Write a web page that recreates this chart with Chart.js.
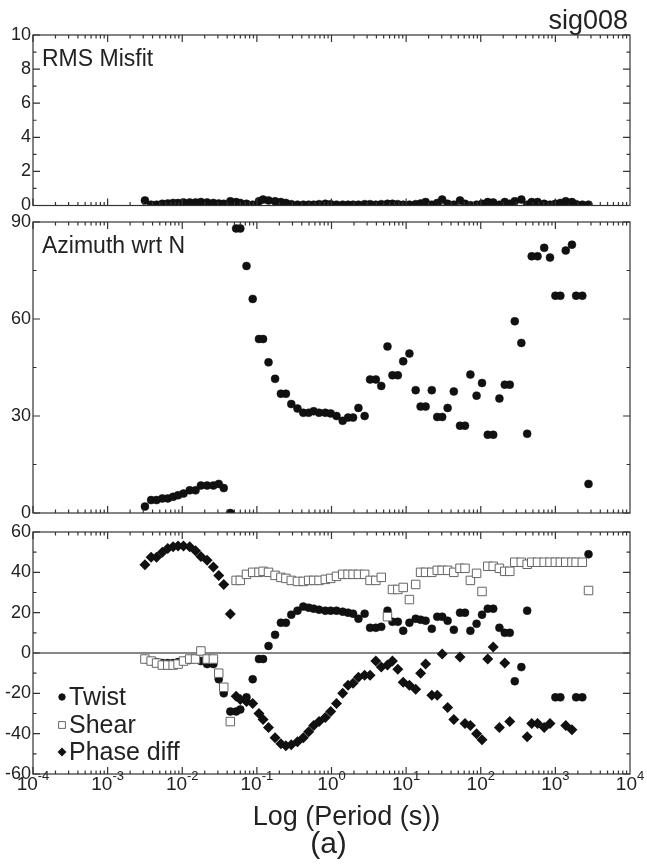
<!DOCTYPE html>
<html>
<head>
<meta charset="utf-8">
<script src="https://cdn.jsdelivr.net/npm/chart.js@4/dist/chart.umd.min.js"></script>
<style>
  body { margin: 0; background: #fff; }
  #wrap { position: relative; width: 647px; height: 867px; }
  canvas { position: absolute; left: 0; }
</style>
</head>
<body>
<div id="wrap">
  <canvas id="c1" width="647" height="210" style="top:0"></canvas>
  <canvas id="c2" width="647" height="310" style="top:210px"></canvas>
  <canvas id="c3" width="647" height="347" style="top:520px"></canvas>
</div>
<script>
// log10 of period (s) for each estimate
const logPeriod = [
  -2.500, -2.417, -2.344, -2.267, -2.194, -2.122, -2.056, -1.983, -1.900, -1.822,
  -1.750, -1.667, -1.583, -1.511, -1.444, -1.356, -1.278, -1.222, -1.139, -1.056,
  -0.972, -0.917, -0.844, -0.756, -0.678, -0.611, -0.539, -0.456, -0.378, -0.306,
  -0.239, -0.167, -0.083, -0.011, 0.067, 0.150, 0.222, 0.289, 0.361, 0.444,
  0.517, 0.594, 0.667, 0.750, 0.817, 0.889, 0.961, 1.044, 1.128, 1.194,
  1.261, 1.344, 1.417, 1.483, 1.556, 1.639, 1.722, 1.789, 1.861, 1.944,
  2.017, 2.094, 2.167, 2.250, 2.322, 2.389, 2.456, 2.544, 2.622, 2.683,
  2.761, 2.850, 2.928, 3.000, 3.067, 3.139, 3.222, 3.278, 3.361, 3.444
];

const rmsMisfit = [
  0.3, 0.05, 0.05, 0.1, 0.12, 0.15, 0.15, 0.18, 0.18, 0.18,
  0.2, 0.18, 0.15, 0.12, 0.1, 0.25, 0.2, 0.15, 0.1, 0.05,
  0.25, 0.35, 0.3, 0.25, 0.2, 0.15, 0.08, 0.05, 0.05, 0.05,
  0.05, 0.08, 0.1, 0.08, 0.05, 0.05, 0.05, 0.05, 0.05, 0.08,
  0.08, 0.05, 0.08, 0.1, 0.1, 0.08, 0.05, 0.05, 0.08, 0.12,
  0.2, 0.05, 0.15, 0.35, 0.1, 0.05, 0.3, 0.1, 0.02, 0.05,
  0.1, 0.2, 0.18, 0.05, 0.2, 0.1, 0.25, 0.35, 0.05, 0.2,
  0.2, 0.1, 0.05, 0.1, 0.15, 0.25, 0.2, 0.08, 0.05, 0.05
];

const azimuth = [
  2, 4, 4, 4.5, 4.5, 5, 5.5, 6, 7, 7,
  8.5, 8.5, 8.5, 9, 7.7, 0, 88, 88, 76.4, 66.2,
  53.8, 53.8, 46.6, 41.5, 36.9, 36.9, 33.7, 32.3, 31, 31,
  31.5, 31, 31, 30.8, 30, 28.5, 29.5, 29.5, 32.5, 30,
  41.3, 41.3, 39.3, 51.5, 42.6, 42.6, 46.9, 49.3, 38, 32.9,
  32.9, 38, 29.7, 29.7, 32.5, 37.6, 27, 27, 42.8, 36.3,
  40.2, 24.2, 24.2, 35.4, 39.7, 39.7, 59.3, 52.6, 24.5, 79.4,
  79.4, 82, 79, 67.2, 67.2, 81.2, 83, 67.2, 67.2, 9
];

const twist = [
  -3, -4, -4.5, -5, -5, -5, -4.5, -4, -3.5, -3,
  -4, -5.5, -5.5, -13, -20, -29, -29, -28, -22, -13,
  -3, -3, 3.5, 9, 15, 15, 19, 21, 23, 22.5,
  22, 21.5, 21, 21, 21, 20.5, 20, 19.5, 17, 19.5,
  12.5, 12.5, 13, 21, 15.5, 15.5, 11, 15, 17, 16.5,
  16, 12, 18, 18, 16, 11.5, 20, 20, 11, 14.5,
  19, 22, 22, 12.5, 10, 10, -14, -7, 21, null,
  null, null, null, -22, -22, null, null, -22, -22, 49
];

const shear = [
  -3, -4, -5, -6, -6, -6, -5.5, -4, -3, -3,
  1, -3, -3, -10, -17, -34, 36, 36, 39, 40,
  40, 40.5, 40, 38.5, 37.5, 37, 36, 35.5, 35.5, 36,
  36, 36, 36.5, 37, 38, 39, 39, 39, 39, 39,
  36, 36, 37.5, 18, 31.5, 31.5, 32.5, 26.5, 34, 40,
  40, 40, 41, 41, 41, 40, 42, 42, 36, 39.5,
  30.5, 43, 43, 42, 40.5, 40.5, 45, 45, 44, 45,
  45, 45, 45, 45, 45, 45, 45, 45, 45, 31
];

const phaseDiff = [
  43.7, 47.5, 47.5, 50, 51.8, 52.7, 53, 53, 52.7, 50.7,
  47.8, 46, 42.6, 38.4, 34, 19.3, -21.5, -23, -24, -25,
  -30, -33, -37, -42, -45, -46, -45.5, -44, -42, -39,
  -36, -34, -32, -29, -25, -20, -16, -15, -12, -11,
  -11, -4, -7, -6, -4, -8, -14.5, -16, -18, -10,
  -5.5, -21, -21, -0.5, -27, -33, -2, -35, -36, -40,
  -43, -3, 3, -37, -5, -34, null, null, -41.5, -35,
  -35, -37, -35, null, null, -36, -38, null, null, null
];

const decades = [-4, -3, -2, -1, 0, 1, 2, 3, 4];
const FONT = '"Liberation Sans Narrow", "Liberation Sans", Arial, sans-serif';

function pts(vals) {
  return logPeriod.map((l, i) => ({ x: Math.pow(10, l), y: vals[i] })).filter(p => p.y !== null);
}

// frame, inward ticks and labels for one panel
function framePlugin(opt) {
  return {
    id: 'frame',
    beforeDatasetsDraw(chart) {
      const c = chart.ctx, a = chart.chartArea;
      const ys = chart.scales.y;
      if (opt.zeroLine) {
        c.save();
        c.strokeStyle = '#888';
        c.lineWidth = 2;
        const y0 = ys.getPixelForValue(0);
        c.beginPath(); c.moveTo(a.left, y0); c.lineTo(a.right, y0); c.stroke();
        c.restore();
      }
    },
    afterDatasetsDraw(chart) {
      const c = chart.ctx, a = chart.chartArea;
      const xs = chart.scales.x, ys = chart.scales.y;
      c.save();
      c.strokeStyle = '#333';
      c.lineWidth = 1.2;
      c.strokeRect(a.left, a.top, a.right - a.left, a.bottom - a.top);
      c.beginPath();
      // x ticks
      for (let d = -4; d < 4; d++) {
        for (let m = 1; m <= 9; m++) {
          const px = xs.getPixelForValue(m * Math.pow(10, d));
          const len = m === 1 ? 7 : 3.5;
          c.moveTo(px, a.bottom); c.lineTo(px, a.bottom - len);
          c.moveTo(px, a.top); c.lineTo(px, a.top + len);
        }
      }
      // y ticks
      for (let v = ys.min; v <= ys.max + 1e-9; v += opt.minor) {
        const py = ys.getPixelForValue(v);
        const isMajor = Math.abs((v - ys.min) / opt.major - Math.round((v - ys.min) / opt.major)) < 1e-6;
        const len = isMajor ? 7 : 3.5;
        c.moveTo(a.left, py); c.lineTo(a.left + len, py);
        c.moveTo(a.right, py); c.lineTo(a.right - len, py);
      }
      c.stroke();
      // y labels
      c.fillStyle = '#222';
      c.font = '18px ' + FONT;
      c.textAlign = 'right';
      c.textBaseline = 'middle';
      opt.labels.forEach(v => {
        c.fillText(String(v), a.left - 2, ys.getPixelForValue(v));
      });
      // panel title
      c.textAlign = 'left';
      c.textBaseline = 'alphabetic';
      c.font = '23px ' + FONT;
      c.fillText(opt.title || '', a.left + 9, a.top + 31);
      if (opt.onTop) opt.onTop(chart, c, a, xs, ys);
      c.restore();
    }
  };
}

function makeChart(id, datasets, yMin, yMax, pad, opt) {
  return new Chart(document.getElementById(id), {
    type: 'scatter',
    data: { datasets },
    options: {
      responsive: false,
      animation: false,
      devicePixelRatio: 1,
      layout: { padding: pad },
      scales: {
        x: { type: 'logarithmic', min: 1e-4, max: 1e4, display: false },
        y: { min: yMin, max: yMax, display: false }
      },
      plugins: { legend: { display: false }, tooltip: { enabled: false } }
    },
    plugins: [framePlugin(opt)]
  });
}

const dot = { pointStyle: 'circle', pointRadius: 4, backgroundColor: '#111', borderColor: '#111', borderWidth: 0.5 };
const square = { pointStyle: 'rect', pointRadius: 6, backgroundColor: '#fff', borderColor: '#666', borderWidth: 1 };
const diamond = { pointStyle: 'rectRot', pointRadius: 5.5, backgroundColor: '#111', borderColor: '#111', borderWidth: 0 };

makeChart('c1', [Object.assign({ data: pts(rmsMisfit) }, dot)], 0, 10,
  { top: 35, bottom: 4, left: 33, right: 17 },
  {
    title: 'RMS Misfit', major: 2, minor: 1, labels: [0, 2, 4, 6, 8, 10],
    onTop(chart, c, a) {
      c.font = '27px ' + FONT;
      c.textAlign = 'right';
      c.fillText('sig008', a.right - 2, a.top - 6);
    }
  });

makeChart('c2', [Object.assign({ data: pts(azimuth) }, dot)], 0, 90,
  { top: 12, bottom: 7, left: 33, right: 17 },
  { title: 'Azimuth wrt N', major: 30, minor: 15, labels: [0, 30, 60, 90] });

makeChart('c3', [
  Object.assign({ data: pts(shear), label: 'Shear' }, square),
  Object.assign({ data: pts(twist), label: 'Twist' }, dot),
  Object.assign({ data: pts(phaseDiff), label: 'Phase diff' }, diamond)
], -60, 60,
  { top: 12, bottom: 93, left: 33, right: 17 },
  {
    zeroLine: true, major: 20, minor: 10, labels: [-60, -40, -20, 0, 20, 40, 60],
    onTop(chart, c, a, xs) {
      // legend
      const items = [['Twist', dot, 177], ['Shear', square, 205], ['Phase diff', diamond, 232]];
      c.font = '25px ' + FONT;
      c.textAlign = 'left';
      c.textBaseline = 'middle';
      items.forEach(([txt, st, yy]) => {
        c.fillStyle = st.backgroundColor;
        c.strokeStyle = st.borderColor;
        c.lineWidth = 1;
        Chart.helpers.drawPoint(c, {
          pointStyle: st.pointStyle, radius: st.pointRadius * 0.8, rotation: 0, borderWidth: st.borderWidth
        }, 62, yy);
        c.fillStyle = '#222';
        c.fillText(txt, 69, yy + 1);
      });
      // x tick labels with superscript exponents
      c.textBaseline = 'alphabetic';
      decades.forEach(d => {
        const px = xs.getPixelForValue(Math.pow(10, d));
        c.font = '19px ' + FONT;
        const w1 = c.measureText('10').width;
        c.font = '13px ' + FONT;
        const e = String(d);
        const w2 = c.measureText(e).width;
        const x0 = px - (w1 + w2) / 2;
        c.textAlign = 'left';
        c.font = '19px ' + FONT;
        c.fillText('10', x0, a.bottom + 16);
        c.font = '13px ' + FONT;
        c.fillText(e, x0 + w1, a.bottom + 6);
      });
      c.textAlign = 'center';
      const cx = (a.left + a.right) / 2;
      c.font = '27px ' + FONT;
      c.fillText('Log (Period (s))', cx + 15, a.bottom + 51);
      c.font = '30px ' + FONT;
      c.fillText('(a)', cx - 3, a.bottom + 79);
    }
  });
</script>
</body>
</html>
